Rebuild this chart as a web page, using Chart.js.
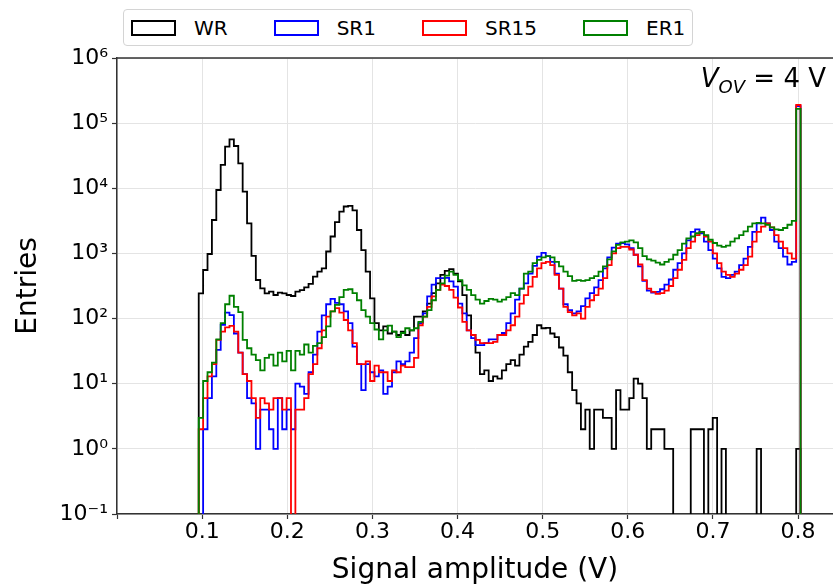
<!DOCTYPE html>
<html>
<head>
<meta charset="utf-8">
<title>Signal amplitude spectra</title>
<script src="https://cdn.jsdelivr.net/npm/chart.js@4.4.1/dist/chart.umd.min.js"></script>
<style>
  html, body { margin: 0; padding: 0; background: #fff; }
  #wrap { position: relative; width: 833px; height: 585px; overflow: hidden; }
  #legend {
    position: absolute; left: 123px; top: 9px; width: 570px; height: 37px;
    box-sizing: border-box; border: 1px solid #d4d4d4; border-radius: 4px;
    display: flex; align-items: center; padding-left: 7px; gap: 46px;
    font: 20px "DejaVu Sans"; color: #000; background: #fff;
  }
  .item { display: flex; align-items: center; gap: 18px; }
  .swatch { width: 45px; height: 16px; box-sizing: border-box; border: 2px solid; }
</style>
</head>
<body>
<div id="wrap">
  <canvas id="chart" width="833" height="585"></canvas>
  <div id="legend"></div>
</div>
<script>
// ---- Data: histogram bins (equal width), counts per bin ----
const BIN_START = 0.096;
const BIN_WIDTH = 0.00516;

const WR = [
  244, 557, 980, 3260, 9420, 22800, 43500, 56500, 44600, 24200,
  8870, 2900, 914, 391, 291, 244, 259, 230, 250, 244,
  230, 222, 259, 274, 301, 340, 440, 525, 589, 1070,
  1820, 3020, 4370, 5250, 5370, 4570, 2290, 1120, 525, 204,
  85, 66, 76, 59, 63, 56, 63, 56, 66, 107,
  107, 129, 170, 245, 347, 468, 540, 575, 490, 372,
  229, 112, 56, 30, 14, 16, 11, 13, 12, 16,
  20, 23, 19, 28, 37, 44, 56, 79, 71, 72,
  59, 52, 36, 27, 15, 8, 5, 2, 4, 1,
  4, 4, 3, 3, 1, 8, 4, 4, 6, 12,
  10, 6, 1, 2, 2, 2, 1, 1, 0, 0,
  0, 0, 2, 2, 2, 0, 2, 3, 0, 1,
  0, 0, 0, 0, 0, 0, 0, 1, 0, 0,
  0, 0, 0, 0, 0, 0, 1
];

const SR1 = [
  0, 2, 6, 13, 33, 80, 123, 113, 59, 30,
  14, 6, 5, 1, 4, 4, 2, 1, 6, 2,
  4, 2, 10, 9, 7, 15, 28, 63, 112, 166,
  200, 174, 166, 129, 85, 37, 20, 8, 20, 15,
  13, 16, 7, 9, 15, 22, 20, 22, 30, 50,
  85, 120, 219, 331, 417, 417, 420, 372, 309, 170,
  120, 66, 50, 39, 39, 42, 48, 48, 56, 60,
  85, 120, 195, 288, 347, 490, 646, 891, 1023, 912,
  741, 490, 288, 166, 135, 120, 129, 155, 204, 245,
  302, 389, 589, 871, 1230, 1413, 1445, 1380, 1202, 955,
  631, 380, 269, 251, 257, 282, 331, 398, 562, 708,
  1000, 1585, 2138, 2344, 2042, 1514, 1122, 832, 589, 437,
  417, 468, 525, 661, 832, 1259, 2138, 2884, 3548, 2884,
  2291, 1514, 1202, 891, 676, 741, 182000
];

const SR15 = [
  2, 6, 13, 20, 47, 63, 73, 77, 63, 30,
  14, 11, 6, 3, 6, 5, 4, 6, 6, 4,
  6, 0, 4, 4, 6, 14, 20, 35, 66, 107,
  129, 145, 123, 95, 66, 42, 20, 20, 22, 11,
  19, 15, 15, 11, 16, 15, 19, 18, 18, 25,
  79, 107, 151, 219, 275, 331, 316, 275, 209, 148,
  89, 66, 56, 47, 42, 42, 42, 44, 56, 56,
  66, 79, 107, 170, 229, 309, 437, 589, 708, 741,
  661, 468, 288, 151, 126, 112, 120, 100, 151, 191,
  229, 288, 417, 661, 1000, 1202, 1259, 1259, 1148, 955,
  676, 389, 288, 257, 240, 245, 269, 316, 417, 562,
  794, 1202, 1514, 1905, 2138, 1820, 1514, 1000, 708, 525,
  468, 437, 490, 562, 661, 891, 1514, 2138, 2570, 2884,
  2512, 1905, 1514, 1202, 1000, 832, 190000
];

const ER1 = [
  3, 11, 15, 21, 48, 85, 166, 224, 151, 126,
  47, 35, 28, 23, 16, 25, 28, 19, 30, 22,
  32, 16, 32, 28, 40, 30, 38, 42, 52, 76,
  129, 162, 214, 275, 282, 245, 191, 135, 107, 85,
  68, 48, 66, 78, 63, 52, 60, 71, 66, 71,
  89, 107, 135, 191, 275, 347, 457, 525, 468, 389,
  324, 275, 229, 195, 170, 186, 200, 195, 182, 195,
  214, 245, 229, 288, 490, 525, 708, 794, 871, 912,
  871, 741, 631, 525, 447, 380, 389, 380, 389, 417,
  447, 525, 631, 813, 1072, 1349, 1479, 1514, 1585, 1479,
  1202, 912, 813, 776, 724, 676, 741, 813, 955, 1122,
  1413, 1698, 1820, 2042, 2138, 1905, 1622, 1445, 1318, 1259,
  1318, 1514, 1698, 1905, 2188, 2570, 2884, 2951, 2884, 2754,
  2512, 2344, 2291, 2455, 2754, 3162, 166000
];

const SERIES_NAMES = ["WR", "SR1", "SR15", "ER1"];
const SERIES_COLORS = ["#000000", "#0000ff", "#ff0000", "#008000"];

const X_TICKS = [0, 0.1, 0.2, 0.3, 0.4, 0.5, 0.6, 0.7, 0.8];
const X_TICK_LABELS = ["", "0.1", "0.2", "0.3", "0.4", "0.5", "0.6", "0.7", "0.8"];
const Y_TICKS = [0.1, 1, 10, 100, 1e3, 1e4, 1e5, 1e6];
const Y_TICK_LABELS = ["10⁻¹", "10⁰", "10¹", "10²", "10³", "10⁴", "10⁵", "10⁶"];

const FONT = '"DejaVu Sans", "Liberation Sans", sans-serif';
const FLOOR = 1e-3; // empty bins drop below the axis, like a log-scale step hist

// step outline: rise at the first edge, one point per bin edge, drop at the last edge
function stepPoints(counts) {
  const pts = [{ x: BIN_START, y: FLOOR }];
  counts.forEach((c, i) => pts.push({ x: BIN_START + i * BIN_WIDTH, y: c > 0 ? c : FLOOR }));
  pts.push({ x: BIN_START + counts.length * BIN_WIDTH, y: FLOOR });
  return pts;
}

const allSeries = [WR, SR1, SR15, ER1];
const datasets = allSeries.map((s, i) => ({
  label: SERIES_NAMES[i],
  data: stepPoints(s),
  borderColor: SERIES_COLORS[i],
  borderWidth: 1.8,
  stepped: true,
  pointRadius: 0,
  fill: false,
  order: allSeries.length - i   // ER1 on top, WR underneath
}));

// ---- Legend (html) ----
const legend = document.getElementById("legend");
SERIES_NAMES.forEach((name, i) => {
  const item = document.createElement("div");
  item.className = "item";
  item.innerHTML = `<span class="swatch" style="border-color:${SERIES_COLORS[i]}"></span><span>${name}</span>`;
  legend.appendChild(item);
});

// top spine (matplotlib-like box, right side runs off the picture)
const topSpine = {
  id: "topSpine",
  afterDatasetsDraw(chart) {
    const { ctx, chartArea: a } = chart;
    ctx.save();
    ctx.strokeStyle = "#333";
    ctx.lineWidth = 1.5;
    ctx.beginPath();
    ctx.moveTo(a.left, a.top);
    ctx.lineTo(a.right, a.top);
    ctx.stroke();
    ctx.restore();
  }
};

// V_OV = 4 V label, top right inside the axes
const vovLabel = {
  id: "vovLabel",
  afterDraw(chart) {
    const ctx = chart.ctx;
    const right = 826, base = 87;
    ctx.save();
    ctx.fillStyle = "#000";
    ctx.textBaseline = "alphabetic";
    ctx.textAlign = "left";
    const fMain = `26px ${FONT}`, fIt = `italic 26px ${FONT}`, fSub = `italic 18px ${FONT}`;
    ctx.font = fMain; const wTail = ctx.measureText(" = 4 V").width;
    ctx.font = fSub;  const wSub = ctx.measureText("OV").width;
    ctx.font = fIt;   const wV = ctx.measureText("V").width;
    let x = right - wTail - wSub - wV;
    ctx.fillText("V", x, base); x += wV;
    ctx.font = fSub; ctx.fillText("OV", x, base + 6); x += wSub;
    ctx.font = fMain; ctx.fillText(" = 4 V", x, base);
    ctx.restore();
  }
};

const gridColor = "#e4e4e4";

new Chart(document.getElementById("chart").getContext("2d"), {
  type: "line",
  data: { datasets },
  options: {
    responsive: false,
    animation: false,
    layout: { padding: { top: 58, left: 0, right: 0, bottom: 0 } },
    plugins: { legend: { display: false }, tooltip: { enabled: false } },
    scales: {
      x: {
        type: "linear",
        min: 0,
        max: 0.841,
        afterBuildTicks: (s) => { s.ticks = X_TICKS.map(v => ({ value: v })); },
        afterFit: (s) => { s.height = 71; },
        ticks: {
          autoSkip: false, maxRotation: 0, padding: 0, color: "#000",
          font: { family: FONT, size: 22 },
          callback: (v, i) => X_TICK_LABELS[i]
        },
        grid: { color: gridColor, lineWidth: 1, tickLength: 5, tickColor: "#333", tickWidth: 1.2 },
        border: { display: true, color: "#333", width: 1.5 },
        title: {
          display: true, text: "Signal amplitude (V)", color: "#000",
          font: { family: FONT, size: 28 }, padding: { top: 0, bottom: -3 }
        }
      },
      y: {
        type: "logarithmic",
        min: 0.1,
        max: 1e6,
        afterBuildTicks: (s) => { s.ticks = Y_TICKS.map(v => ({ value: v })); },
        afterFit: (s) => { s.width = 117; },
        ticks: {
          autoSkip: false, padding: 4, color: "#000",
          font: { family: FONT, size: 22 },
          callback: (v, i) => Y_TICK_LABELS[i]
        },
        grid: { color: gridColor, lineWidth: 1, tickLength: 5, tickColor: "#333", tickWidth: 1.2 },
        border: { display: true, color: "#333", width: 1.5 },
        title: {
          display: true, text: "Entries", color: "#000",
          font: { family: FONT, size: 28 }, padding: { top: 12, bottom: 0 }
        }
      }
    }
  },
  plugins: [topSpine, vovLabel]
});
</script>
</body>
</html>
